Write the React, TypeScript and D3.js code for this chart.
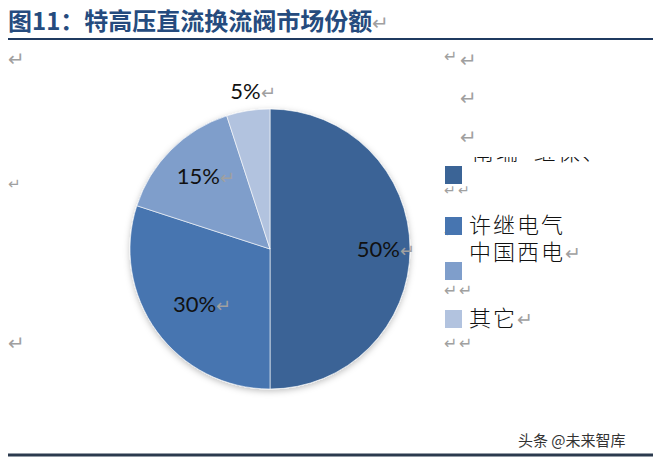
import { useMemo } from "react";
import * as d3 from "d3";

// market share of UHV DC converter valves
const companies = ["南瑞+继保、", "许继电气", "中国西电", "其它"];
const shares = [50, 30, 15, 5];
const sliceColors = ["#3b6496", "#4775b0", "#7f9ecb", "#b2c3df"];

const TITLE = "图11：特高压直流换流阀市场份额";
const SOURCE = "头条 @未来智库";

const W = 653;
const H = 461;
const CX = 270;
const CY = 249;
const R = 140;

// where Excel's "best fit" put each data label, as a fraction of the radius
const LABEL_R = [0.77, 0.67, 0.73, 1.14];

// legend rows (square top, text centre) — the Word layout is uneven
const LEGEND_SQ = [166, 217, 262, 310];
const LEGEND_TXT = [152, 225, 252, 318];

const CJK = `"Noto Sans CJK SC", "Noto Sans", sans-serif`;
const NUM = `Lato, "Open Sans", sans-serif`;
const MARK = "#a0a0a0";

// stray paragraph marks from the source document
const RETURNS: [number, number, number][] = [
  [8, 59, 20], [8, 184, 15], [8, 343, 20],
  [444, 56, 16], [460, 60, 20], [460, 98, 20], [460, 137, 20],
  [444, 190, 14], [458, 190, 14], [444, 232, 14],
  [444, 290, 16], [459, 290, 16], [444, 343, 16], [459, 343, 16],
];

export default function App() {
  const arcs = useMemo(
    () =>
      d3
        .pie<number>()
        .sort(null)
        .startAngle(0)
        .endAngle(2 * Math.PI)(shares),
    []
  );
  const arc = d3.arc<d3.PieArcDatum<number>>().innerRadius(0).outerRadius(R);
  const labelAt = (a: d3.PieArcDatum<number>, i: number) =>
    d3
      .arc<d3.PieArcDatum<number>>()
      .innerRadius(R * LABEL_R[i])
      .outerRadius(R * LABEL_R[i])
      .centroid(a);

  return (
    <svg
      width={W}
      height={H}
      viewBox={`0 0 ${W} ${H}`}
      style={{ position: "absolute", left: 0, top: 0, background: "#fff" }}
    >
      <defs>
        <filter id="shadow" x="-20%" y="-20%" width="140%" height="140%">
          <feDropShadow dx="0" dy="2" stdDeviation="3" floodColor="#000" floodOpacity="0.25" />
        </filter>
        <clipPath id="cut">
          <rect x={430} y={157} width={200} height={30} />
        </clipPath>
      </defs>

      {/* title */}
      <text x={8} y={21} dy="0.36em" fontFamily={CJK} fontWeight={700} fontSize={24} fill="#254b7e">
        {TITLE}
        <tspan fill={MARK} fontWeight={400} fontSize={20}>↵</tspan>
      </text>
      <line x1={8} x2={W} y1={39} y2={39} stroke="#1f3a60" strokeWidth={2.2} />

      {RETURNS.map(([x, y, s], i) => (
        <text key={i} x={x} y={y} dy="0.35em" fontSize={s} fill={MARK} fontFamily="DejaVu Sans">
          ↵
        </text>
      ))}

      {/* pie */}
      <g transform={`translate(${CX},${CY})`}>
        <g filter="url(#shadow)">
          {arcs.map((a, i) => (
            <path key={i} d={arc(a) ?? ""} fill={sliceColors[i]} stroke="#fff" strokeWidth={0.6} />
          ))}
        </g>
        {arcs.map((a, i) => {
          const [x, y] = labelAt(a, i);
          // nudge right by half the trailing return mark so the number itself is centred
          return (
            <text
              key={i}
              x={x + 8}
              y={y}
              dy="0.35em"
              textAnchor="middle"
              fontFamily={NUM}
              fontSize={22}
              fill="#111"
            >
              {a.data}%
              <tspan fill={MARK} fontSize={18}>↵</tspan>
            </text>
          );
        })}
      </g>

      {/* legend */}
      {companies.map((c, i) => (
        <g key={c}>
          <rect x={445} y={LEGEND_SQ[i]} width={17} height={18} fill={sliceColors[i]} />
          <text
            x={i === 0 ? 472 : 469}
            y={LEGEND_TXT[i]}
            dy="0.36em"
            fontFamily={CJK}
            fontWeight={300}
            fontSize={22}
            letterSpacing={2}
            fill="#111"
            clipPath={i === 0 ? "url(#cut)" : undefined}
          >
            {c}
            {i >= 2 && <tspan fill={MARK} fontSize={19} letterSpacing={0}>↵</tspan>}
          </text>
        </g>
      ))}

      {/* source */}
      <text x={518} y={441} dy="0.35em" fontFamily={CJK} fontSize={15} fill="#333">
        {SOURCE}
      </text>
      <line x1={8} x2={W} y1={455} y2={455} stroke="#2b3a4e" strokeWidth={3} />
    </svg>
  );
}
